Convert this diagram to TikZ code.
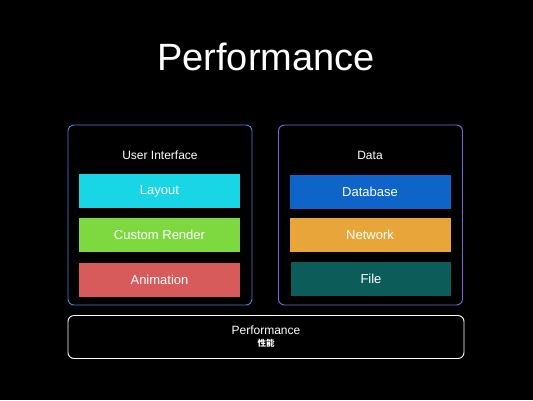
\documentclass[tikz,border=0pt]{standalone}
\usepackage{fontspec}
\setmainfont{Liberation Sans}
\newfontfamily\cjk{Noto Sans CJK SC}
\usetikzlibrary{shapes.geometric}
\definecolor{layoutc}{HTML}{19D6E6}
\definecolor{renderc}{HTML}{7ED940}
\definecolor{animc}{HTML}{D85B5B}
\definecolor{dbc}{HTML}{0E64C8}
\definecolor{netc}{HTML}{E8A63A}
\definecolor{filec}{HTML}{0C5C5A}
\definecolor{uiframe}{HTML}{4A85D8}
\definecolor{dataframe}{HTML}{7A6AD8}
\tikzstyle{bar} = [rectangle, minimum width=161pt, minimum height=34pt, inner sep=0pt, text=white, font=\fontsize{13}{15}\selectfont]
\tikzstyle{group} = [rectangle, rounded corners=6pt, line width=0.9pt, minimum width=184pt, minimum height=180pt, inner sep=0pt]
\tikzstyle{caption} = [text=white, font=\fontsize{12}{14}\selectfont]

\begin{document}
\begin{tikzpicture}[x=1pt, y=-1pt]

\fill[black] (0,0) rectangle (533,400);
\useasboundingbox (0,0) rectangle (533,400);

\node[text=white, font=\fontsize{38}{40}\selectfont] (title) at (266,57) {Performance};

% left side

\node[group, draw=uiframe] (ui) at (160,215) {};
\node[caption] (ui_label) at (160,155) {User Interface};
\node[bar, fill=layoutc] (layout) at (159.5,191) {Layout};
\node[bar, fill=renderc] (render) at (159.5,235) {Custom Render};
\node[bar, fill=animc] (anim) at (159.5,279.5) {Animation};

% right side

\node[group, draw=dataframe] (data) at (370.5,215) {};
\node[caption] (data_label) at (370,155) {Data};
\node[bar, fill=dbc] (database) at (370,191.5) {Database};
\node[bar, fill=netc] (network) at (370,235) {Network};
\node[bar, fill=filec, minimum width=160pt] (file) at (371,278.5) {File};

% bottom

\node[rectangle, draw=white, rounded corners=6pt, line width=0.9pt, minimum width=396pt, minimum height=43pt, align=center, text=white, inner sep=0pt] (perf) at (266,337)
  {{\fontsize{12}{13}\selectfont Performance}\\[0pt]{\cjk\bfseries\fontsize{8.5}{9}\selectfont 性能}};

\end{tikzpicture}
\end{document}
